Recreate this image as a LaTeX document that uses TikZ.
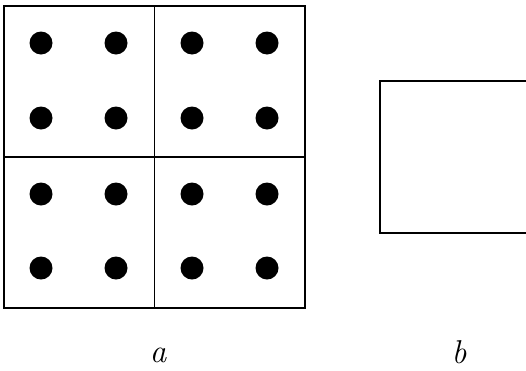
\documentclass[tikz,border=0pt]{standalone}
\usepackage{fontspec}
\usepackage{tikz}
\usetikzlibrary{positioning}

\begin{document}
\begin{tikzpicture}[
    x=1pt, y=-1pt,
    cell/.style={
        draw,
        line width=1.1pt,
        inner sep=0pt,
        minimum width=150.5pt,
        minimum height=151pt
    },
    spot/.style={
        circle,
        fill=black,
        inner sep=0pt,
        minimum size=23pt
    },
    lbl/.style={
        font=\fontsize{33}{36}\selectfont\itshape,
        inner sep=0pt
    }
]

\useasboundingbox (0,0) rectangle (526,370);

% four quarters of square a
\node[cell] (c11) at (79.25,81.5) {};
\node[cell] (c12) at (229.75,81.5) {};
\node[cell] (c21) at (79.25,232.5) {};
\node[cell] (c22) at (229.75,232.5) {};

% dots
\foreach \x/\i in {41/1,116/2,192/3,267/4}
  \foreach \y/\j in {43/1,118/2,194/3,268/4}
    \node[spot] (d\i\j) at (\x,\y) {};

% rectangle b, running off the right edge
\node[draw, line width=1.1pt, inner sep=0pt,
      minimum width=156pt, minimum height=152pt] (rb) at (458,157) {};

\node[lbl] (la) at (158,355) {a};
\node[lbl] (lb) at (459,352) {b};

\end{tikzpicture}
\end{document}
